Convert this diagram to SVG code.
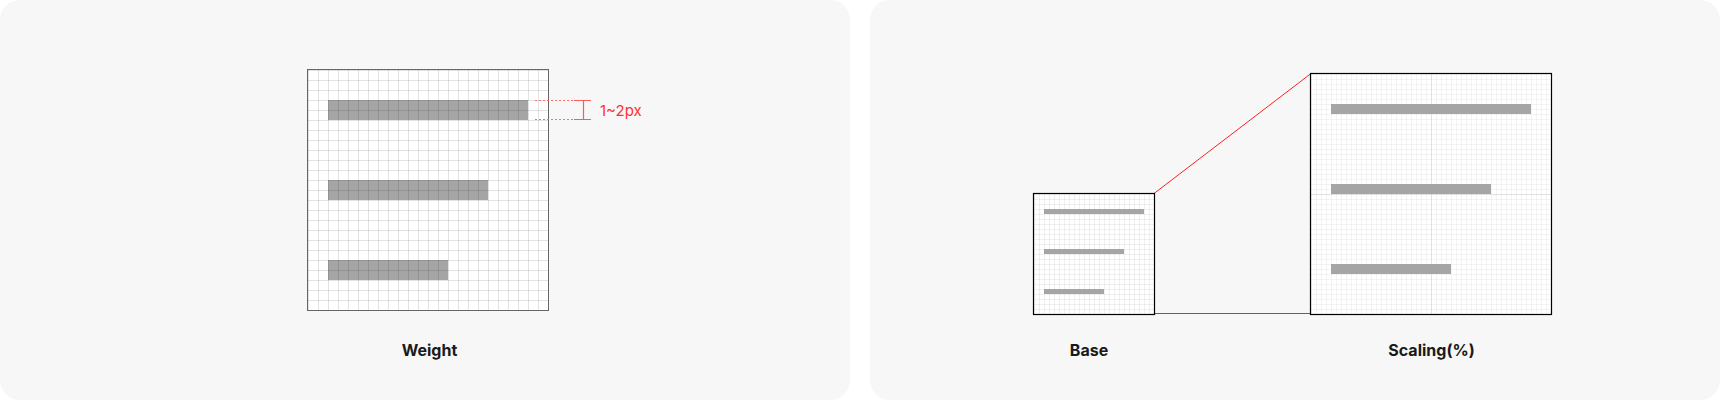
<svg xmlns="http://www.w3.org/2000/svg" width="1720" height="400" viewBox="0 0 1720 400">
<style>
.panel{fill:#f7f7f7}
.lbl{font-family:Inter,"Liberation Sans",sans-serif;font-weight:700;font-size:16px;fill:#1a1a1a;text-anchor:middle}
.bar{fill:#a5a5a5}
.red{stroke:#ff2020;stroke-width:1;fill:none}
.dot{stroke:#ff6b6b;stroke-width:1.2;stroke-dasharray:2 2;fill:none}
</style>
<defs>
<pattern id="gw" patternUnits="userSpaceOnUse" x="308" y="70" width="10" height="10">
<path d="M0 0.5H10M0.5 0V10" stroke="#000" stroke-opacity="0.11" stroke-width="1" fill="none"/>
</pattern>
<pattern id="gb" patternUnits="userSpaceOnUse" x="1034" y="194" width="5" height="5">
<path d="M0 0.5H5M0.5 0V5" stroke="#000" stroke-opacity="0.06" stroke-width="1" fill="none"/>
</pattern>
<pattern id="gs" patternUnits="userSpaceOnUse" x="1311" y="74" width="5" height="5">
<path d="M0 0.5H5M0.5 0V5" stroke="#000" stroke-opacity="0.045" stroke-width="1" fill="none"/>
</pattern>
</defs>
<rect class="panel" x="0" y="0" width="850" height="400" rx="20"/>
<rect class="panel" x="870" y="0" width="850" height="400" rx="20"/>

<g id="weight">
<rect x="308" y="70" width="240" height="240" fill="#fff"/>
<rect class="bar" x="328" y="100" width="200" height="20"/>
<rect class="bar" x="328" y="180" width="160" height="20"/>
<rect class="bar" x="328" y="260" width="120" height="20"/>
<rect x="308" y="70" width="240" height="240" fill="url(#gw)"/>
<rect x="307.5" y="69.5" width="241" height="241" fill="none" stroke="#666" stroke-width="1"/>
<path class="dot" d="M535 100.5H573M535 119.5H573"/>
<path d="M574 100.5H591M574 119.5H591M583.5 100.5V119.5" stroke="#ff5a5a" stroke-width="1.2" fill="none"/>
<text x="600" y="116" font-family="Inter,'Liberation Sans',sans-serif" font-size="15" fill="#ff3030">1~2px</text>
<text class="lbl" x="429.5" y="356">Weight</text>
</g>

<g id="connectors">
<line class="red" x1="1154" y1="193.5" x2="1311" y2="73.5"/>
<line class="red" x1="1154" y1="313.5" x2="1311" y2="313.5"/>
</g>

<g id="base">
<rect x="1034" y="194" width="120" height="120" fill="#fff"/>
<rect x="1034" y="194" width="120" height="120" fill="url(#gb)"/>
<rect class="bar" x="1044" y="209" width="100" height="5"/>
<rect class="bar" x="1044" y="249" width="80" height="5"/>
<rect class="bar" x="1044" y="289" width="60" height="5"/>
<rect x="1033.5" y="193.5" width="121" height="121" fill="none" stroke="#000" stroke-width="1.2"/>
<text class="lbl" x="1089" y="356">Base</text>
</g>

<g id="scaling">
<rect x="1311" y="74" width="240" height="240" fill="#fff"/>
<rect x="1311" y="74" width="240" height="240" fill="url(#gs)"/>
<path d="M1431.5 74V314M1311 194.5H1551" stroke="#000" stroke-opacity="0.07" stroke-width="1"/>
<rect class="bar" x="1331" y="104" width="200" height="10"/>
<rect class="bar" x="1331" y="184" width="160" height="10"/>
<rect class="bar" x="1331" y="264" width="120" height="10"/>
<rect x="1310.5" y="73.5" width="241" height="241" fill="none" stroke="#000" stroke-width="1.2"/>
<text class="lbl" x="1431.5" y="356">Scaling(%)</text>
</g>
</svg>
